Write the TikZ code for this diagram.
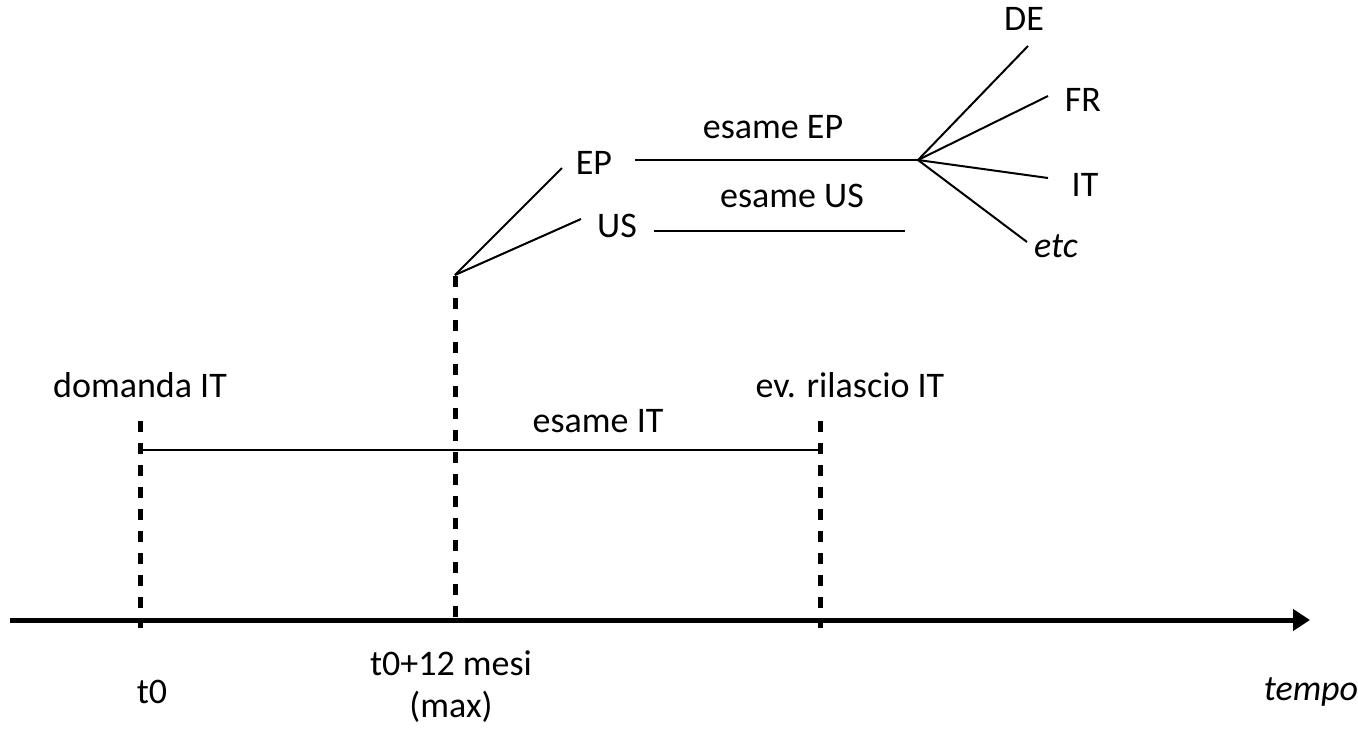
\documentclass[tikz,border=0pt]{standalone}
\usepackage{fontspec}
\setmainfont{Carlito}
\usetikzlibrary{arrows.meta}
\begin{document}
\begin{tikzpicture}[x=1pt,y=-1pt,
  lbl/.style={inner sep=0pt,font=\fontsize{36}{42}\selectfont},
  ilbl/.style={lbl,font=\fontsize{36}{42}\selectfont\itshape},
  marker/.style={line width=5pt,dash pattern=on 11pt off 11pt},
  thin line/.style={line width=2pt},
  axis/.style={line width=5pt,-{Triangle[length=17pt,width=21pt]}}]
\useasboundingbox (0,0) rectangle (1358,732);
% time axis
\coordinate (ax0) at (10,620);
\coordinate (ax1) at (1310,620);
\draw[axis] (ax0) -- (ax1);
% milestone markers
\coordinate (m1t) at (140,421);
\coordinate (m1b) at (140,628);
\coordinate (m2t) at (455,276);
\coordinate (m2b) at (455,628);
\coordinate (m3t) at (820,421);
\coordinate (m3b) at (820,628);
\draw[marker] (m1t) -- (m1b);
\draw[marker] (m2t) -- (m2b);
\draw[marker] (m3t) -- (m3b);
% IT examination span
\coordinate (itA) at (140,450);
\coordinate (itB) at (820,450);
\draw[thin line] (itA) -- (itB);
% labels on the time line
\node[lbl] (dom) at (140,385) {domanda IT};
\node[lbl] (esit) at (598,421) {esame IT};
\node[lbl] (ril) at (850,385) {ev. rilascio IT};
\node[lbl] (t0) at (152,692) {t0};
\node[lbl,align=center] (t12) at (451,687) {t0+12 mesi\\(max)};
\node[ilbl] (tempo) at (1311,692) {tempo};
% priority filings
\coordinate (fork) at (455,275);
\coordinate (epA) at (562,168);
\coordinate (usA) at (581,219);
\draw[thin line] (fork) -- (epA);
\draw[thin line] (fork) -- (usA);
\node[lbl] (ep) at (594,163) {EP};
\node[lbl] (us) at (617,226) {US};
\coordinate (epL) at (635,160);
\coordinate (hub) at (918,160);
\coordinate (usL) at (654,231);
\coordinate (usR) at (905,231);
\draw[thin line] (epL) -- (hub);
\draw[thin line] (usL) -- (usR);
\node[lbl] (esep) at (773,127) {esame EP};
\node[lbl] (esus) at (792,196) {esame US};
% national validations
\coordinate (deE) at (1028,46);
\coordinate (frE) at (1048,96);
\coordinate (itE) at (1048,178);
\coordinate (etE) at (1027,242);
\draw[thin line] (hub) -- (deE);
\draw[thin line] (hub) -- (frE);
\draw[thin line] (hub) -- (itE);
\draw[thin line] (hub) -- (etE);
\node[lbl] (de) at (1024,19) {DE};
\node[lbl] (fr) at (1083,100) {FR};
\node[lbl] (it) at (1085,185) {IT};
\node[ilbl] (etc) at (1056,246) {etc};
\end{tikzpicture}
\end{document}
